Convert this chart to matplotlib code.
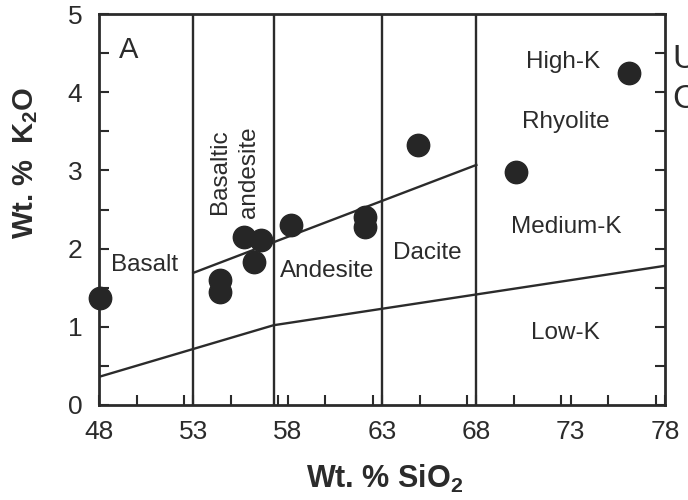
import matplotlib.pyplot as plt
import numpy as np
from matplotlib.ticker import MultipleLocator, FixedLocator

plt.rcParams['font.family'] = ['Liberation Sans', 'DejaVu Sans']
plt.rcParams['mathtext.default'] = 'regular'
ink = '#2b2b2b'

# Sample analyses: SiO2 vs K2O (wt. %)
sio2 = [48.05, 54.4, 54.4, 55.7, 56.6, 56.2, 58.2, 62.1, 62.1, 64.9, 70.1, 76.1]
k2o = [1.37, 1.60, 1.45, 2.15, 2.11, 1.83, 2.30, 2.40, 2.28, 3.32, 2.98, 4.24]

# Rock-name boundaries (vertical lines)
rock_bounds = [53.0, 57.25, 63.0, 68.0]

# High-K / Medium-K boundary
hk_x = [53.0, 68.0]
hk_y = [1.69, 3.07]

# Medium-K / Low-K boundary
lk_x = [48.0, 57.25, 78.0]
lk_y = [0.36, 1.02, 1.78]

# Field labels
labels = ['Basalt', 'Andesite', 'Dacite', 'High-K', 'Rhyolite', 'Medium-K', 'Low-K']
label_x = [50.4, 60.1, 65.4, 72.6, 72.75, 72.75, 72.7]
label_y = [1.79, 1.71, 1.94, 4.39, 3.62, 2.28, 0.92]

fig = plt.figure(figsize=(6.88, 5.0), dpi=100)
ax = fig.add_axes([0.1439, 0.19, 0.8227, 0.782])

for xb in rock_bounds:
    ax.plot([xb, xb], [0, 5], color=ink, lw=1.7)
ax.plot(hk_x, hk_y, color=ink, lw=1.7)
ax.plot(lk_x, lk_y, color=ink, lw=1.7)

ax.scatter(sio2, k2o, s=260, color='#262626', zorder=5, clip_on=False)

for t, x, y in zip(labels, label_x, label_y):
    ax.text(x, y, t, ha='center', va='center', fontsize=17.5, color=ink)
ax.text(55.2, 2.98, 'Basaltic\nandesite', rotation=90, ha='center', va='center',
        fontsize=17.5, color=ink, linespacing=1.4)
ax.text(49.55, 4.54, 'A', ha='center', va='center', fontsize=21, color=ink)

ax.set_xlim(48, 78)
ax.set_ylim(0, 5)
ax.xaxis.set_major_locator(FixedLocator([48, 53, 58, 63, 68, 73, 78]))
ax.xaxis.set_minor_locator(MultipleLocator(2.5))
ax.yaxis.set_major_locator(MultipleLocator(1))
ax.yaxis.set_minor_locator(MultipleLocator(0.5))
ax.tick_params(which='both', direction='in', length=7, width=1.5, color=ink,
               top=False, right=True, labelsize=19, labelcolor=ink)
ax.tick_params(axis='x', pad=11)
ax.tick_params(axis='y', pad=12)
for s in ax.spines.values():
    s.set_linewidth(2.0)
    s.set_color(ink)

ax.set_xlabel('Wt. % SiO$_2$', fontsize=22, fontweight='bold', color=ink)
ax.set_ylabel('Wt. %  K$_2$O', fontsize=21, fontweight='bold', color=ink)
ax.xaxis.set_label_coords(0.505, -0.148)
ax.yaxis.set_label_coords(-0.105, 0.62)

# cropped text from the scanned page edge
fig.text(0.977, 0.88, 'U', fontsize=24, color=ink, va='center')
fig.text(0.977, 0.80, 'C', fontsize=24, color=ink, va='center')

fig.savefig('out.png', dpi=100)
